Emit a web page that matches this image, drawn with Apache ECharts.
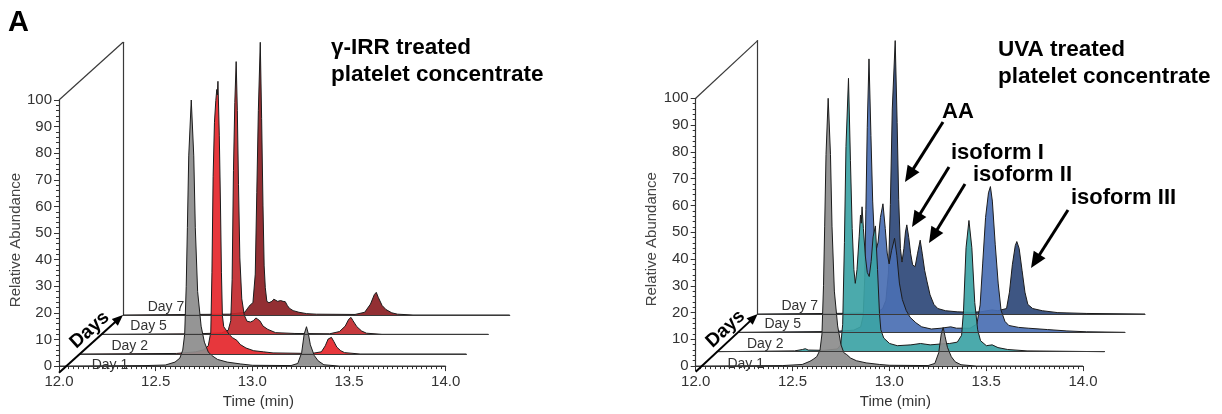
<!DOCTYPE html>
<html><head><meta charset="utf-8">
<script src="https://cdn.jsdelivr.net/npm/echarts@6/dist/echarts.min.js"></script>
<style>html,body{margin:0;padding:0;background:#fff;}#c{width:1222px;height:414px;}</style>
</head><body><div id="c"></div>
<script>
// ---------- data ----------
const days = ['Day 1', 'Day 2', 'Day 5', 'Day 7'];
const timeMin = 12.0, timeMax = 14.0, timeStep = 0.5;
const abundMin = 0, abundMax = 100, abundStep = 10;
const panelTitles = [['γ-IRR treated', 'platelet concentrate'], ['UVA treated', 'platelet concentrate']];
const peakLabels = ['AA', 'isoform I', 'isoform II', 'isoform III'];
const axisNames = { x: 'Time (min)', y: 'Relative Abundance', depth: 'Days' };

// γ-IRR panel: [time (min), relative abundance]
const irrDay1 = [[12.00,0],[12.45,0.2],[12.55,0.4],[12.60,1.5],[12.625,3],[12.64,6],[12.65,12],[12.658,30],[12.664,52],[12.671,79],[12.684,100],[12.697,79],[12.705,52],[12.717,28],[12.735,15],[12.752,9],[12.772,5.3],[12.79,4],[12.82,2.5],[12.87,1.5],[12.94,0.8],[13.00,0.3],[13.20,0.2],[13.235,1],[13.255,5],[13.268,12],[13.28,14.8],[13.29,12],[13.30,8],[13.32,4],[13.34,2],[13.37,0.5],[13.45,0],[14.00,0]];
const irrDay2 = [[12.00,0],[12.50,0.2],[12.60,0.8],[12.64,1.5],[12.665,3],[12.678,8],[12.684,30],[12.690,65],[12.697,85],[12.704,93],[12.709,97],[12.712,95],[12.715,100],[12.722,80],[12.728,55],[12.733,30],[12.738,14],[12.745,10],[12.76,8.5],[12.775,7],[12.79,6],[12.80,5.5],[12.813,5],[12.83,3.5],[12.86,2.2],[12.90,1.2],[12.95,0.8],[13.00,0.4],[13.20,0.2],[13.25,0.8],[13.27,3],[13.285,5.5],[13.302,6.1],[13.315,4.5],[13.33,2.5],[13.35,1.2],[13.37,0.5],[13.45,0],[14.00,0]];
const irrDay5 = [[12.00,0],[12.50,0.2],[12.62,0.5],[12.655,1.5],[12.668,5],[12.675,20],[12.682,60],[12.689,85],[12.696,100],[12.702,82],[12.708,55],[12.715,28],[12.725,13],[12.738,7],[12.752,4.8],[12.77,4.5],[12.785,5],[12.798,6],[12.807,6.4],[12.818,5],[12.835,3],[12.86,1.8],[12.90,0.6],[13.00,0.3],[13.18,0.2],[13.23,1],[13.26,3],[13.278,5.5],[13.29,6.2],[13.30,5],[13.32,2.8],[13.345,1.2],[13.37,0.4],[13.45,0],[14.00,0]];
const irrDay7 = [[12.00,0],[12.55,0.3],[12.63,1],[12.645,2.5],[12.658,3.7],[12.672,4.5],[12.684,15],[12.692,45],[12.700,75],[12.710,100],[12.717,72],[12.724,40],[12.730,18],[12.736,10],[12.744,5],[12.755,4.5],[12.77,5],[12.78,5.8],[12.788,6.1],[12.80,5],[12.815,5.3],[12.828,5],[12.839,4.9],[12.85,3.5],[12.86,2.5],[12.88,1.6],[12.91,1],[12.95,0.5],[13.00,0.3],[13.20,0.2],[13.25,1],[13.28,4],[13.30,7.5],[13.31,8.3],[13.32,6.5],[13.34,3.5],[13.36,2],[13.39,0.8],[13.42,0.3],[13.50,0],[14.00,0]];

// UVA panel
const uvaDay1 = [[12.00,0],[12.45,0.2],[12.55,0.6],[12.59,1.8],[12.606,2.5],[12.625,3.5],[12.642,6],[12.652,12],[12.660,30],[12.666,52],[12.673,79],[12.684,100],[12.696,79],[12.704,52],[12.716,28],[12.733,15],[12.75,8],[12.765,5],[12.78,4.3],[12.80,3],[12.83,2],[12.88,1.2],[12.95,0.6],[13.00,0.3],[13.20,0.2],[13.235,1],[13.255,5],[13.268,12],[13.278,14.4],[13.288,11],[13.30,7],[13.32,3.5],[13.34,1.6],[13.37,0.5],[13.45,0],[14.00,0]];
const uvaDay2 = [[12.00,0],[12.40,0.3],[12.44,0.8],[12.455,1.1],[12.47,0.6],[12.55,0.5],[12.62,1],[12.638,2.5],[12.648,10],[12.657,40],[12.665,75],[12.678,100],[12.688,70],[12.697,45],[12.706,30],[12.713,25],[12.722,30],[12.733,42],[12.74,50],[12.744,47],[12.748,53],[12.755,45],[12.765,35],[12.775,29],[12.785,27.5],[12.795,33],[12.805,42],[12.817,46],[12.828,30],[12.838,14],[12.845,8],[12.86,5],[12.89,3],[12.93,2.2],[13.00,2.5],[13.05,3],[13.10,2.5],[13.15,2.8],[13.20,3],[13.24,3.5],[13.262,6],[13.272,15],[13.285,38],[13.30,48],[13.315,38],[13.33,18],[13.345,8],[13.36,4],[13.39,2.2],[13.42,2.5],[13.45,1.5],[13.50,0.8],[13.60,0.3],[14.00,0]];
const uvaDay5 = [[12.00,0],[12.50,0.3],[12.60,0.8],[12.635,2],[12.648,6],[12.656,20],[12.662,45],[12.669,75],[12.678,100],[12.688,72],[12.697,48],[12.706,34],[12.715,30],[12.725,33],[12.737,42],[12.75,47],[12.762,38],[12.772,29],[12.782,25],[12.795,30],[12.81,34.4],[12.822,28],[12.835,18],[12.85,12],[12.87,8],[12.89,5.5],[12.92,3.5],[12.95,2],[13.00,1.2],[13.05,1.5],[13.10,2],[13.13,1.5],[13.20,1.5],[13.235,3],[13.252,10],[13.265,25],[13.28,42],[13.295,51],[13.305,53.3],[13.315,48],[13.33,32],[13.345,18],[13.36,8],[13.38,4],[13.40,2.5],[13.45,1.8],[13.50,1.5],[13.60,1],[13.70,0.5],[13.80,0.2],[14.00,0]];
const uvaDay7 = [[12.00,0],[12.55,0.3],[12.62,0.8],[12.645,2],[12.662,5],[12.675,15],[12.685,40],[12.695,75],[12.71,100],[12.72,70],[12.728,42],[12.737,24],[12.745,19],[12.755,24],[12.763,30],[12.77,32.6],[12.78,28],[12.79,22],[12.80,18],[12.813,17.3],[12.825,22],[12.839,27],[12.85,22],[12.862,16],[12.874,12],[12.89,7],[12.91,3.5],[12.93,2],[12.97,1.2],[13.03,0.8],[13.10,0.6],[13.15,0.8],[13.21,1.5],[13.24,1.2],[13.285,2],[13.30,8],[13.315,18],[13.33,25],[13.338,26.5],[13.35,24],[13.365,16],[13.38,8],[13.395,3.5],[13.42,2],[13.47,1.2],[13.55,0.5],[13.70,0.2],[14.00,0]];

// ---------- layout ----------
const FONT = "'Liberation Sans', Arial, Helvetica, sans-serif";
const panels = [
  { x0: 59, y0: 372.7, W: 386.7, H: 272.7,
    depth: [[0,0],[20.7,18.7],[42.6,38.4],[64,57.7]],
    labelDx: [51, 50, 47, 43],
    data: [irrDay1, irrDay2, irrDay5, irrDay7],
    colors: ['#8c8c8c', '#e5262b', '#c1282d', '#8a1d22'],
    title: panelTitles[0], titleX: 331, titleY: 48 },
  { x0: 695.7, y0: 371.7, W: 387.3, H: 273.4,
    depth: [[0,0],[21.5,20],[42,39.4],[62,57.7]],
    labelDx: [50, 48, 45, 42],
    data: [uvaDay1, uvaDay2, uvaDay5, uvaDay7],
    colors: ['#8c8c8c', '#3ca3a5', '#4a6fb3', '#2e4878'],
    title: panelTitles[1], titleX: 998, titleY: 50 }
];

const grid = [], xAxis = [], yAxis = [], series = [], graphic = [];
const AX = '#333';

function arrow(x1, y1, x2, y2, w, hl, hw) {
  const a = Math.atan2(y2 - y1, x2 - x1);
  const bx = x2 - hl * Math.cos(a), by = y2 - hl * Math.sin(a);
  const px = -Math.sin(a) * hw / 2, py = Math.cos(a) * hw / 2;
  graphic.push({ type: 'line', z: 100, shape: { x1, y1, x2: bx + Math.cos(a) * 2, y2: by + Math.sin(a) * 2 }, style: { stroke: '#000', lineWidth: w } });
  graphic.push({ type: 'polygon', z: 100, shape: { points: [[x2, y2], [bx + px, by + py], [bx - px, by - py]] }, style: { fill: '#000' } });
}

panels.forEach((p, pi) => {
  for (let k = 0; k < 4; k++) {
    const gi = pi * 4 + k;
    const [dx, dy] = p.depth[k];
    grid.push({ left: p.x0 + dx, top: p.y0 - dy - p.H, width: p.W, height: p.H, containLabel: false });
    if (k === 0) {
      xAxis.push({ gridIndex: gi, type: 'value', min: timeMin, max: timeMax, interval: timeStep, z: 6,
        axisLine: { show: true, lineStyle: { color: AX, width: 1.2 } },
        axisTick: { show: true, length: 5, lineStyle: { color: AX } },
        minorTick: { show: true, splitNumber: 20, length: 3, lineStyle: { color: AX } },
        splitLine: { show: false }, minorSplitLine: { show: false },
        axisLabel: { fontSize: 15, color: AX, fontFamily: FONT, margin: 8, formatter: v => v.toFixed(1) },
        name: axisNames.x, nameLocation: 'middle', nameGap: 24,
        nameTextStyle: { fontSize: 15, color: AX, fontFamily: FONT, padding: [0, 0, 0, 12] } });
      yAxis.push({ gridIndex: gi, type: 'value', min: abundMin, max: abundMax, interval: abundStep,
        axisLine: { show: true, lineStyle: { color: AX, width: 1.2 } },
        axisTick: { show: true, length: 5, lineStyle: { color: AX } },
        minorTick: { show: true, splitNumber: 5, length: 3, lineStyle: { color: AX } },
        splitLine: { show: false },
        axisLabel: { fontSize: 15, color: AX, fontFamily: FONT, margin: 7 },
        name: axisNames.y, nameLocation: 'middle', nameGap: 25, nameRotate: 90,
        nameTextStyle: { fontSize: 15, color: '#444', fontFamily: FONT, padding: [0, 14, 0, 0] } });
    } else {
      xAxis.push({ gridIndex: gi, type: 'value', min: timeMin, max: timeMax, z: 6,
        axisLine: { show: true, lineStyle: { color: '#3a3a3a', width: 1.2 } },
        axisTick: { show: false }, axisLabel: { show: false }, splitLine: { show: false } });
      yAxis.push({ gridIndex: gi, type: 'value', min: abundMin, max: abundMax, show: k === 3,
        axisLine: { show: k === 3, lineStyle: { color: '#3a3a3a', width: 1.2 } },
        axisTick: { show: false }, axisLabel: { show: false }, splitLine: { show: false } });
    }
  }
  // series drawn back (Day 7) to front (Day 1)
  for (let k = 3; k >= 0; k--) {
    const gi = pi * 4 + k;
    series.push({ type: 'line', name: days[k], xAxisIndex: gi, yAxisIndex: gi, data: p.data[k],
      symbol: 'none', smooth: false, silent: true, clip: false, z: 5 - k,
      lineStyle: { color: '#1c1c1c', width: 1 },
      areaStyle: { color: p.colors[k], opacity: 0.92 } });
  }
  // day labels
  for (let k = 0; k < 4; k++) {
    const [dx, dy] = p.depth[k];
    graphic.push({ type: 'text', x: p.x0 + dx + p.labelDx[k], y: p.y0 - dy - 7.8, z: 100,
      style: { text: days[k], fill: '#333', font: '14px ' + FONT, align: 'center', verticalAlign: 'middle', textAlign: 'center', textVerticalAlign: 'middle' } });
  }
  const [d7x, d7y] = p.depth[3];
  // top diagonal of the box
  graphic.push({ type: 'line', z: 100, shape: { x1: p.x0, y1: p.y0 - p.H, x2: p.x0 + d7x, y2: p.y0 - p.H - d7y }, style: { stroke: '#3a3a3a', lineWidth: 1.2 } });
  // Days arrow
  arrow(p.x0, p.y0, p.x0 + d7x, p.y0 - d7y, 2, 11, 9);
  const ang = Math.atan2(d7y, d7x);
  graphic.push({ type: 'text', x: p.x0 + d7x * 0.48, y: p.y0 - d7y * 0.48 - 15, rotation: ang, z: 100,
    style: { text: axisNames.depth, fill: '#000', font: 'bold 19px ' + FONT, align: 'center', verticalAlign: 'middle', textAlign: 'center', textVerticalAlign: 'middle' } });
  // titles
  p.title.forEach((t, i) => graphic.push({ type: 'text', x: p.titleX, y: p.titleY + i * 27, z: 100,
    style: { text: t, fill: '#000', font: 'bold 22.5px ' + FONT, align: 'left', verticalAlign: 'middle', textAlign: 'left', textVerticalAlign: 'middle' } }));
});

// panel letter
graphic.push({ type: 'text', x: 8, y: 23, z: 100, style: { text: 'A', fill: '#000', font: 'bold 29px ' + FONT, align: 'left', verticalAlign: 'middle', textAlign: 'left', textVerticalAlign: 'middle' } });

// peak annotations (UVA panel)
const annPos = [[942, 112], [951, 153], [973, 175], [1071, 198]];
const annArrows = [[943, 122, 905, 182], [949, 167, 912, 227], [965, 184, 929, 243], [1068, 210, 1031, 268]];
peakLabels.forEach((t, i) => {
  graphic.push({ type: 'text', x: annPos[i][0], y: annPos[i][1], z: 100,
    style: { text: t, fill: '#000', font: 'bold 22px ' + FONT, align: 'left', verticalAlign: 'middle', textAlign: 'left', textVerticalAlign: 'middle' } });
  const a = annArrows[i];
  arrow(a[0], a[1], a[2], a[3], 3, 16, 14);
});

const chart = echarts.init(document.getElementById('c'), null, { renderer: 'canvas' });
chart.setOption({ animation: false, backgroundColor: '#fff', grid, xAxis, yAxis, series, graphic });
</script></body></html>
